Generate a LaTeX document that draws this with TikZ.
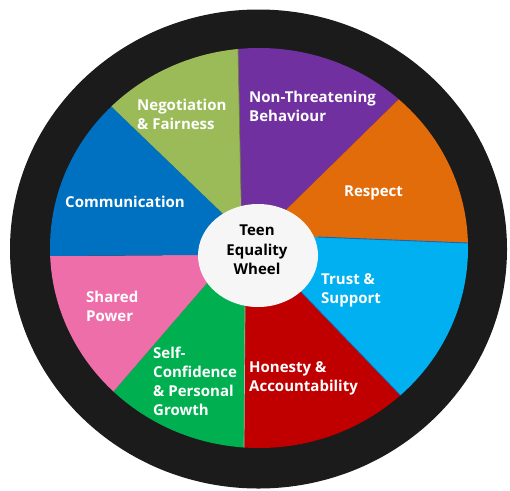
\documentclass[tikz,border=0pt]{standalone}
\usepackage{fontspec}
\setmainfont{Open Sans}
\usetikzlibrary{calc}
\definecolor{ringc}{RGB}{27,27,27}
\definecolor{lgreen}{RGB}{155,187,89}
\definecolor{purp}{RGB}{112,48,160}
\definecolor{orng}{RGB}{227,108,10}
\definecolor{cyanc}{RGB}{0,176,240}
\definecolor{redc}{RGB}{192,0,0}
\definecolor{greenc}{RGB}{0,176,80}
\definecolor{pinkc}{RGB}{238,110,170}
\definecolor{bluec}{RGB}{0,112,192}
\definecolor{hubc}{RGB}{246,246,246}
\definecolor{edgeb}{RGB}{30,100,170}
\begin{document}
\begin{tikzpicture}[x=1pt,y=-1pt,
  lbl/.style={text=white,font=\bfseries\fontsize{15}{19}\selectfont,align=left,inner sep=0pt,anchor=west},
  hubtext/.style={text=black,font=\bfseries\fontsize{15}{19.5}\selectfont,align=center,inner sep=0pt},
  wedge/.style={draw=none}]
\useasboundingbox (0,0) rectangle (510,490);
\fill[white] (0,0) rectangle (510,490);
% outer ring
\fill[ringc] (258.5,249) ellipse [x radius=248.5pt, y radius=239.5pt];
% boundary coordinates (inner, outer)
\coordinate (i1) at (241,197); \coordinate (o1) at (238,49);
\coordinate (i2) at (293,203); \coordinate (o2) at (398,100);
\coordinate (i3) at (318,237); \coordinate (o3) at (468,243);
\coordinate (i4) at (302,293); \coordinate (o4) at (402,397);
\coordinate (i5) at (245,307); \coordinate (o5) at (244,450);
\coordinate (i6) at (207,283); \coordinate (o6) at (113,392);
\coordinate (i7) at (199,255); \coordinate (o7) at (49,256);
\coordinate (i8) at (217,208); \coordinate (o8) at (112,107);
\foreach \k in {1,...,8}{
  \coordinate (a\k) at ($(o\k)!1.3!(i\k)$);
  \coordinate (e\k) at ($(i\k)!1.5!(o\k)$);
}
\begin{scope}
  \clip (259,248) ellipse [x radius=209pt, y radius=200pt];
  \fill[ringc] (259,248) ellipse [x radius=209pt, y radius=200pt];
  \fill[purp]   (a1) -- (e1) -- (e2) -- (a2) -- cycle;
  \fill[orng]   (a2) -- (e2) -- (e3) -- (a3) -- cycle;
  \fill[cyanc]  (a3) -- (e3) -- (e4) -- (a4) -- cycle;
  \fill[redc]   (a4) -- (e4) -- (e5) -- (a5) -- cycle;
  \fill[greenc] (a5) -- (e5) -- (e6) -- (a6) -- cycle;
  \fill[pinkc]  (a6) -- (e6) -- (e7) -- (a7) -- cycle;
  \fill[bluec]  (a7) -- (e7) -- (e8) -- (a8) -- cycle;
  \fill[lgreen] (a8) -- (e8) -- (e1) -- (a1) -- cycle;
  \draw[line width=0.9pt, edgeb] (i3) -- (e3);
  \draw[line width=0.7pt, edgeb] (i4) -- (e4);
  \draw[line width=0.7pt, lgreen!70!black] (i1) -- (e1);
  \draw[line width=0.7pt, gray!60] (i5) -- (e5);
\end{scope}
% hub
\fill[hubc] (258,255.5) ellipse [x radius=60pt, y radius=51.5pt];
\node[hubtext] (hub) at (257,250) {Teen\\Equality\\Wheel};
% labels
\node[lbl] (negot) at (137,114.5) {Negotiation\\\& Fairness};
\node[lbl] (nonthr) at (249,106) {Non-Threatening\\Behaviour};
\node[lbl,anchor=center] (resp) at (373.5,193) {Respect};
\node[lbl] (comm) at (65,202) {Communication};
\node[lbl] (trust) at (321,290.5) {Trust \&\\Support};
\node[lbl] (shared) at (86,306.5) {Shared\\Power};
\node[lbl] (selfc) at (153,381.5) {Self-\\Confidence\\\& Personal\\Growth};
\node[lbl] (hon) at (249,378.5) {Honesty \&\\Accountability};
\end{tikzpicture}
\end{document}
